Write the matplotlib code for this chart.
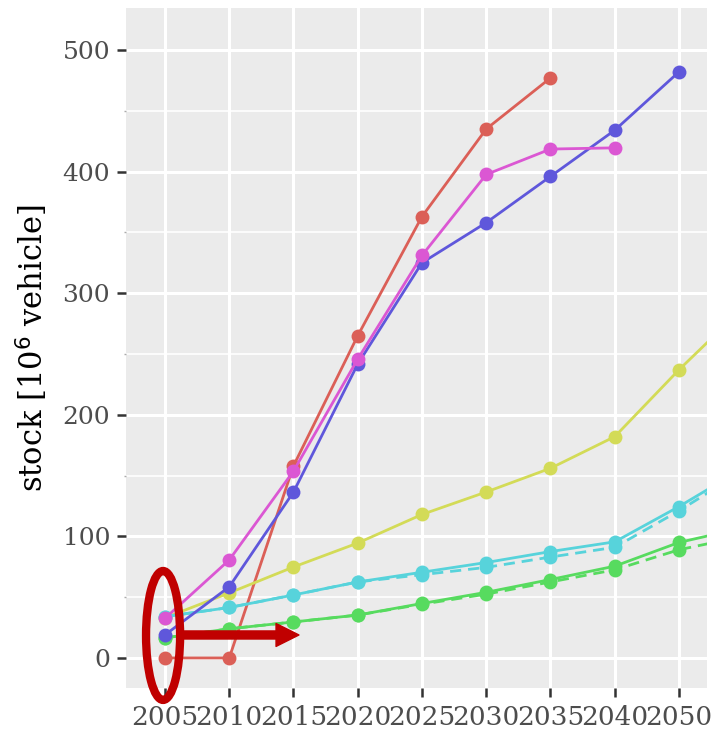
import numpy as np
import matplotlib
matplotlib.use("Agg")
import matplotlib.pyplot as plt
import seaborn as sns
from matplotlib.patches import Ellipse
from matplotlib.ticker import MultipleLocator

nan = np.nan

# categories on the x axis (discrete); the last one is cut off by the panel edge
years = ["2005", "2010", "2015", "2020", "2025", "2030", "2035", "2040", "2050", "2060"]

# stock values, 10^6 vehicles
red = [0, 0, 158, 265, 363, 435, 477, nan, nan, nan]
yellow = [33, 53.5, 74.8, 94.5, 118, 136.5, 156, 182, 237, 288]
green = [16.5, 24, 29.6, 35.3, 44.8, 54, 64.5, 75.5, 95, 107]
green_dash = [16.5, 24, 29.6, 35.3, 44.2, 52.5, 62.5, 72.5, 89, 100]
cyan = [34, 41.5, 51.8, 62.5, 70.5, 78.5, 87.5, 95.5, 124.5, 156]
cyan_dash = [34, 41.5, 51.8, 62.5, 68.5, 74.5, 83, 91, 121, 154]
blue = [19, 58.5, 136.5, 241.7, 325, 358, 396, 434, 482, nan]
magenta = [32.6, 80.6, 153.7, 245.8, 331, 397.6, 418.5, 419.5, nan, nan]

pal = sns.color_palette("hls", 6)
x = np.arange(len(years))

fig = plt.figure(figsize=(7.13, 7.29), dpi=100)
ax = fig.add_axes([126/713, 41/729, 581/713, 680/729])
ax.set_facecolor("#EBEBEB")
for s in ax.spines.values():
    s.set_visible(False)

# grid
ax.set_axisbelow(True)
ax.grid(which="major", color="white", lw=2.2)
ax.grid(which="minor", axis="y", color="white", lw=1.2)

series = [
    (red, pal[0], "-"),
    (yellow, pal[1], "-"),
    (green_dash, pal[2], "--"),
    (green, pal[2], "-"),
    (cyan_dash, pal[3], "--"),
    (cyan, pal[3], "-"),
    (blue, pal[4], "-"),
    (magenta, pal[5], "-"),
]
for vals, col, ls in series:
    ax.plot(x, vals, color=col, ls=ls, lw=2.0, marker="o", ms=10,
            markeredgewidth=0, dashes=(4, 2.5) if ls == "--" else (None, None))

ax.set_xticks(x)
ax.set_xticklabels(years)
ax.set_xlim(-0.607, 8.436)
ax.set_ylim(-24.7, 534.5)
ax.yaxis.set_major_locator(MultipleLocator(100))
ax.yaxis.set_minor_locator(MultipleLocator(50))

font = "DejaVu Serif"
ax.tick_params(axis="both", which="major", length=6.5, width=1.8, color="#333333",
               labelsize=18, labelcolor="#4D4D4D")
ax.tick_params(axis="x", pad=6, labelsize=19)
ax.tick_params(axis="y", pad=5)
ax.tick_params(axis="y", which="minor", length=1.5, width=1, color="#AAAAAA")
ax.tick_params(axis="x", which="minor", bottom=False)
for lab in ax.get_xticklabels() + ax.get_yticklabels():
    lab.set_family(font)

ax.set_ylabel("stock [10$^6$ vehicle]", family=font, fontsize=22, color="black",
              labelpad=9)

# annotations
mark = "#C00000"
ax.add_patch(Ellipse((-0.03, 18.5), 0.53, 106, fill=False, ec=mark, lw=6,
                     clip_on=False, zorder=5))
ax.annotate("", xy=(2.085, 18.9), xytext=(0.265, 18.9),
            arrowprops=dict(arrowstyle="simple,head_length=16.5,head_width=16.5,tail_width=5.8",
                            mutation_scale=1, color=mark, shrinkA=0, shrinkB=0),
            annotation_clip=False, zorder=5)

fig.savefig("out.png", dpi=100)
